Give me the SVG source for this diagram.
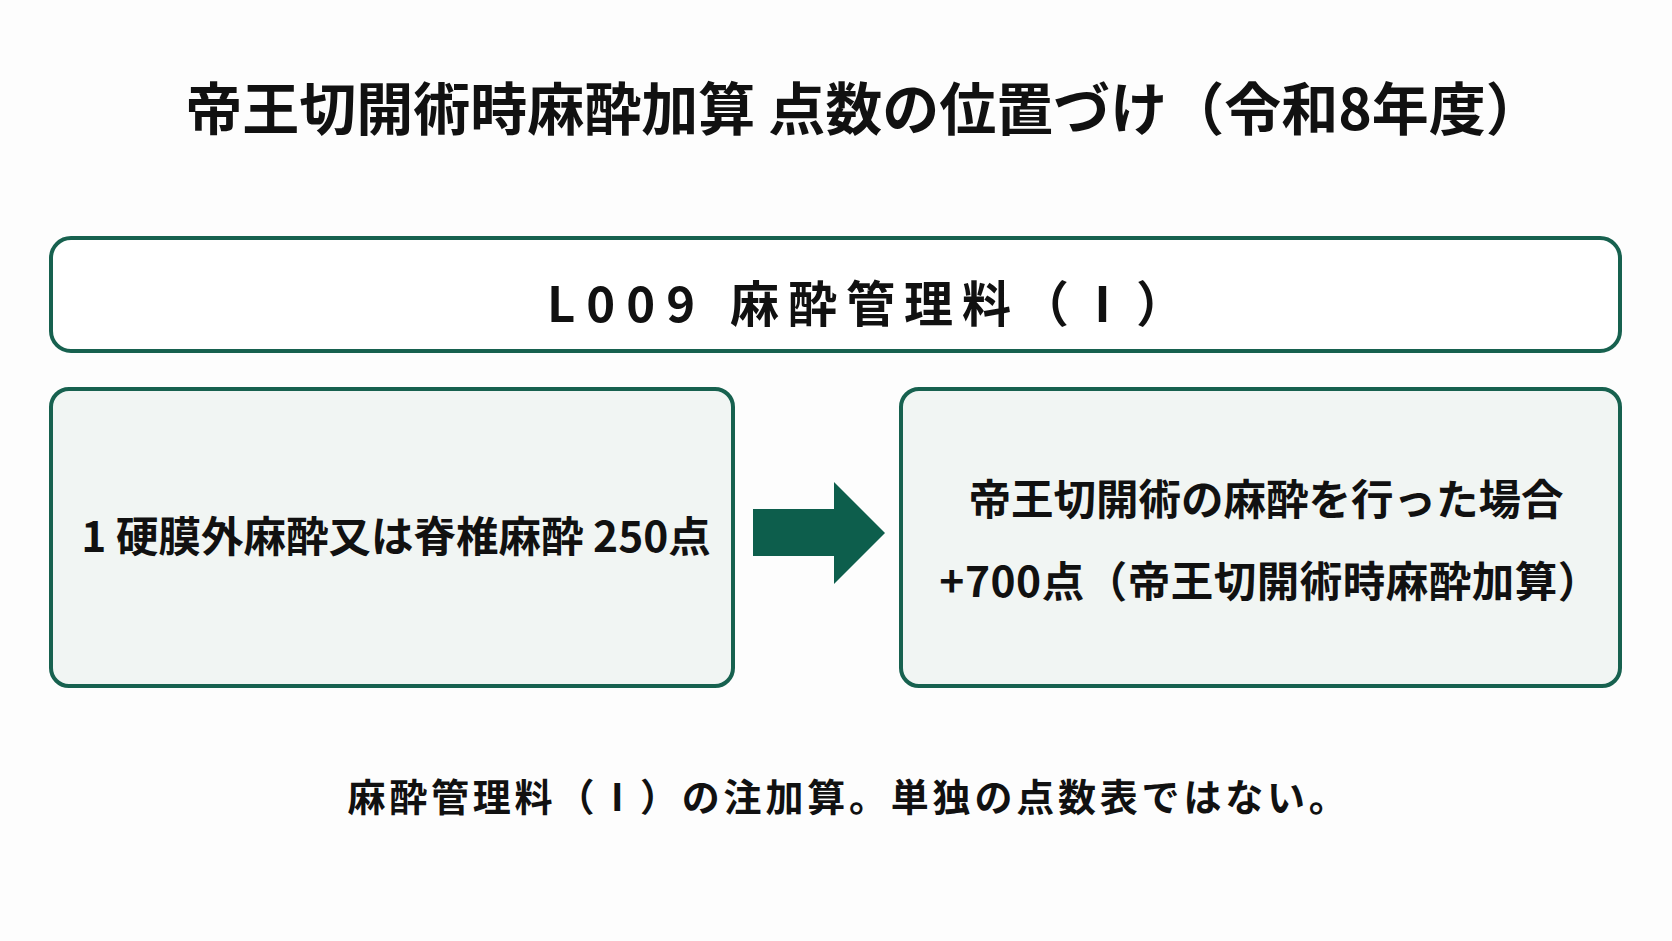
<svg xmlns="http://www.w3.org/2000/svg" width="1672" height="941" viewBox="0 0 1672 941">
<style>
text{font-family:"Noto Sans CJK JP","Noto Sans",sans-serif;fill:#111;font-weight:700}
.title{font-size:57px;text-anchor:middle}
.head{font-size:49px}
.body{font-size:42.5px;text-anchor:middle}
.foot{font-size:38px;letter-spacing:3.8px;text-anchor:middle}
.box{stroke:#17614f;stroke-width:4}
</style>
<rect width="1672" height="941" fill="#fdfdfd"/>
<text class="title" x="864" y="130">帝王切開術時麻酔加算 点数の位置づけ（令和8年度）</text>
<g id="node-l009">
<rect class="box" x="51" y="238" width="1569" height="113" rx="20" fill="#ffffff"/>
<text class="head" x="547" y="322" letter-spacing="11">L009</text>
<text class="head" x="730" y="322" letter-spacing="9">麻酔管理料（Ⅰ）</text>
</g>
<g id="node-base">
<rect class="box" x="51" y="389" width="682" height="297" rx="18" fill="#f1f5f3"/>
<text class="body" x="396" y="552">1 硬膜外麻酔又は脊椎麻酔 250点</text>
</g>
<g id="node-add">
<rect class="box" x="901" y="389" width="719" height="297" rx="18" fill="#f1f5f3"/>
<text class="body" x="1266" y="515" font-size="41.7">帝王切開術の麻酔を行った場合</text>
<text class="body" x="1270" y="597" font-size="42" letter-spacing="0.5">+700点（帝王切開術時麻酔加算）</text>
</g>
<g id="connectors">
<polygon points="753,509 834,509 834,482 885,533 834,584 834,556 753,556" fill="#0d5e4c"/>
</g>
<text class="foot" x="849" y="811">麻酔管理料（Ⅰ）の注加算。単独の点数表ではない。</text>
</svg>
